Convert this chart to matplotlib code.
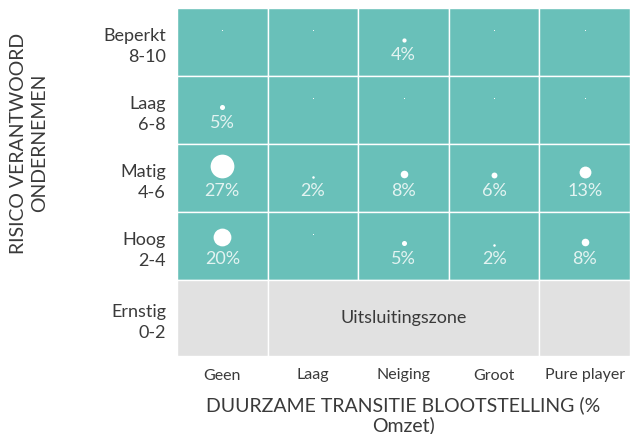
import numpy as np
import matplotlib
matplotlib.use('Agg')
import matplotlib.pyplot as plt
from matplotlib.patches import Rectangle

plt.rcParams['font.family'] = ['Lato', 'DejaVu Sans']

# Data
columns = ['Geen', 'Laag', 'Neiging', 'Groot', 'Pure player']
rows = ['Beperkt\n8-10', 'Laag\n6-8', 'Matig\n4-6', 'Hoog\n2-4', 'Ernstig\n0-2']
beperkt = [0, 0, 4, 0, 0]
laag = [5, 0, 0, 0, 0]
matig = [27, 2, 8, 6, 13]
hoog = [20, 0, 5, 2, 8]
exclusion_label = 'Uitsluitingszone'

teal = '#69c0b9'
grey = '#e1e1e1'
text_dark = '#3a3a3a'

fig = plt.figure(figsize=(6.3, 4.34), dpi=100)
ax = fig.add_axes([177 / 630, 1 - 356 / 434, 453 / 630, 348 / 434])

row_px = 68.0          # height of one teal row in pixels
bottom_h = 76.0 / row_px
ax.set_xlim(0, 5)
ax.set_ylim(1 - bottom_h, 5)

# teal cells
grid = [beperkt, laag, matig, hoog]
for i, vals in enumerate(grid):
    y0 = 4 - i
    for j in range(5):
        ax.add_patch(Rectangle((j, y0), 1, 1, facecolor=teal, edgecolor='white', lw=1.0))

# exclusion zone
yb = 1 - bottom_h
ax.add_patch(Rectangle((0, yb), 1, bottom_h, facecolor=grey, edgecolor='white', lw=1.0))
ax.add_patch(Rectangle((1, yb), 3, bottom_h, facecolor=grey, edgecolor='white', lw=1.0))
ax.add_patch(Rectangle((4, yb), 1, bottom_h, facecolor=grey, edgecolor='white', lw=1.0))
ax.text(2.5, yb + bottom_h / 2, exclusion_label, ha='center', va='center',
        fontsize=13, color=text_dark)

# bubbles and labels
for i, vals in enumerate(grid):
    yc = 4 - i + 0.5
    for j, v in enumerate(vals):
        xc = j + 0.5
        if v == 0:
            ax.scatter(xc, yc + 12 / row_px, s=0.5, color='white', lw=0, zorder=3)
            continue
        diam = 0.85 * v + 0.8
        ax.scatter(xc, yc + (diam / 2) / row_px, s=(diam * 0.72) ** 2,
                   color='white', lw=0, zorder=3)
        ax.text(xc, yc - 13 / row_px, f'{v}%', ha='center', va='center',
                fontsize=13, color='#e3f3f1', zorder=4)

ax.set_xticks(np.arange(5) + 0.5)
ax.set_xticklabels(columns, fontsize=11.5, color=text_dark)
row_centers = [4.5, 3.5, 2.5, 1.5, yb + bottom_h / 2]
ax.set_yticks(row_centers)
ax.set_yticklabels(rows, fontsize=13, color=text_dark, linespacing=1.42)
ax.tick_params(length=0)
ax.tick_params(axis='x', pad=9)
ax.tick_params(axis='y', pad=8)
for s in ax.spines.values():
    s.set_visible(False)

fig.text(403.5 / 630, 1 - 415 / 434, 'DUURZAME TRANSITIE BLOOTSTELLING (%\nOmzet)',
         ha='center', va='center', fontsize=14, color=text_dark, linespacing=1.18,
         multialignment='center')
fig.text(29 / 630, 1 - 143 / 434, 'RISICO VERANTWOORD\nONDERNEMEN', rotation=90,
         ha='center', va='center', fontsize=14, color=text_dark, linespacing=1.35,
         multialignment='center')

fig.savefig('out.png', dpi=100)
